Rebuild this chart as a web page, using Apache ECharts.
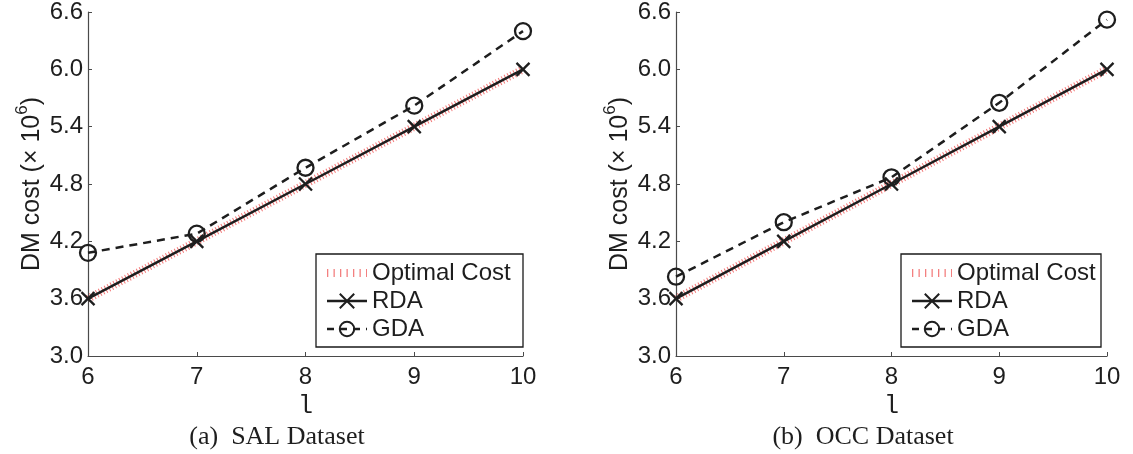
<!DOCTYPE html>
<html>
<head>
<meta charset="utf-8">
<title>DM cost vs l</title>
<script src="https://cdn.jsdelivr.net/npm/echarts@6/dist/echarts.min.js"></script>
<style>
  html, body { margin: 0; padding: 0; background: #ffffff; }
  #chart { width: 1133px; height: 454px; }
</style>
</head>
<body>
<div id="chart"></div>
<script>
// l values on the x axis
const lValues = [6, 7, 8, 9, 10];

// SAL dataset, DM cost in units of 10^6
const salOptimal = [3.6, 4.2, 4.8, 5.4, 6.0];
const salRDA     = [3.6, 4.2, 4.8, 5.4, 6.0];
const salGDA     = [4.08, 4.28, 4.97, 5.62, 6.40];

// OCC dataset, DM cost in units of 10^6
const occOptimal = [3.6, 4.2, 4.8, 5.4, 6.0];
const occRDA     = [3.6, 4.2, 4.8, 5.4, 6.0];
const occGDA     = [3.83, 4.40, 4.87, 5.65, 6.52];

const panelTitles = ['(a)  SAL Dataset', '(b)  OCC Dataset'];
const seriesNames = ['Optimal Cost', 'RDA', 'GDA'];

const SANS = "'Liberation Sans', Arial, Helvetica, sans-serif";
const SERIF = "'Liberation Serif', 'Times New Roman', serif";
const MONO = "'Liberation Mono', 'Courier New', monospace";
const INK = '#1e1e1e';
const AXIS = '#4a4a4a';
const RED = '#ee4a4a';

const pairs = (ys) => lValues.map((x, i) => [x, ys[i]]);

const grids = [
  { left: 88, top: 8, width: 435, height: 348 },
  { left: 676, top: 8, width: 431, height: 348 }
];

function xAxisFor(idx) {
  return {
    gridIndex: idx,
    type: 'value',
    min: 6, max: 10, interval: 1,
    name: 'l',
    nameLocation: 'middle',
    nameGap: 31,
    nameTextStyle: { fontFamily: MONO, fontSize: 25, color: INK },
    axisLine: { lineStyle: { color: AXIS, width: 1.2 } },
    axisTick: { inside: true, length: 4, lineStyle: { color: AXIS, width: 1 } },
    axisLabel: { fontFamily: SANS, fontSize: 24, color: INK, margin: 9 },
    splitLine: { show: false }
  };
}

function yAxisFor(idx) {
  return {
    gridIndex: idx,
    type: 'value',
    min: 3.0, max: 6.6, interval: 0.6,
    name: '{n|DM cost (× 10}{s|6}{n|)}',
    nameLocation: 'middle',
    nameGap: 38,
    nameTextStyle: {
      rich: {
        n: { fontFamily: SANS, fontSize: 25, color: INK, lineHeight: 36 },
        s: { fontFamily: SANS, fontSize: 17, color: INK, lineHeight: 17, verticalAlign: 'top' }
      }
    },
    axisLine: { show: true, lineStyle: { color: AXIS, width: 1.2 } },
    axisTick: { show: true, inside: true, length: 4, lineStyle: { color: AXIS, width: 1 } },
    axisLabel: {
      fontFamily: SANS, fontSize: 24, color: INK, margin: 5,
      formatter: (v) => v.toFixed(1)
    },
    splitLine: { show: false }
  };
}

const crossSymbol = 'path://M0,0L10,10M10,0L0,10';

function panelSeries(idx, optimal, rda, gda) {
  return [
    {
      name: seriesNames[0], type: 'line', xAxisIndex: idx, yAxisIndex: idx,
      data: pairs(optimal), symbol: 'none', silent: true, z: 1,
      lineStyle: { color: RED, width: 8, type: [1, 2.3], opacity: 0.75 },
      itemStyle: { color: RED }
    },
    {
      name: seriesNames[1], type: 'line', xAxisIndex: idx, yAxisIndex: idx,
      data: pairs(rda), symbol: crossSymbol, symbolSize: 13, z: 3,
      lineStyle: { color: INK, width: 2.5, type: 'solid' },
      itemStyle: { color: INK, borderColor: INK, borderWidth: 2.3 }
    },
    {
      name: seriesNames[2], type: 'line', xAxisIndex: idx, yAxisIndex: idx,
      data: pairs(gda), symbol: 'circle', symbolSize: 16, z: 2,
      lineStyle: { color: INK, width: 2.5, type: [8, 6] },
      itemStyle: { color: 'transparent', borderColor: INK, borderWidth: 2.3 }
    }
  ];
}

function legendAt(left) {
  return {
    orient: 'vertical',
    left: left, top: 261,
    padding: 0,
    itemWidth: 40, itemHeight: 18, itemGap: 4,
    data: [
      { name: seriesNames[0],
        itemStyle: { opacity: 0 },
        lineStyle: { color: RED, width: 8, type: [1.3, 5.2], opacity: 0.7 } },
      { name: seriesNames[1],
        lineStyle: { color: INK, width: 2.5, type: 'solid' } },
      { name: seriesNames[2],
        lineStyle: { color: INK, width: 2.5, type: [7, 6] } }
    ],
    selectedMode: false,
    textStyle: { fontFamily: SANS, fontSize: 24, color: INK, lineHeight: 18 }
  };
}

const option = {
  backgroundColor: '#ffffff',
  animation: false,
  grid: grids,
  xAxis: [xAxisFor(0), xAxisFor(1)],
  yAxis: [yAxisFor(0), yAxisFor(1)],
  legend: [legendAt(323), legendAt(908)],
  title: [
    { text: panelTitles[0], left: 272, top: 419, textAlign: 'center',
      textStyle: { fontFamily: SERIF, fontSize: 26, fontWeight: 'normal', color: INK } },
    { text: panelTitles[1], left: 858, top: 419, textAlign: 'center',
      textStyle: { fontFamily: SERIF, fontSize: 26, fontWeight: 'normal', color: INK } }
  ],
  graphic: [
    { type: 'rect', shape: { x: 316, y: 254, width: 207, height: 93 },
      style: { fill: '#ffffff', stroke: '#1a1a1a', lineWidth: 1.3 }, z: -1 },
    { type: 'rect', shape: { x: 901, y: 254, width: 200, height: 93 },
      style: { fill: '#ffffff', stroke: '#1a1a1a', lineWidth: 1.3 }, z: -1 }
  ],
  series: [
    ...panelSeries(0, salOptimal, salRDA, salGDA),
    ...panelSeries(1, occOptimal, occRDA, occGDA)
  ]
};

const chart = echarts.init(document.getElementById('chart'), null, { renderer: 'canvas' });
chart.setOption(option);
</script>
</body>
</html>
